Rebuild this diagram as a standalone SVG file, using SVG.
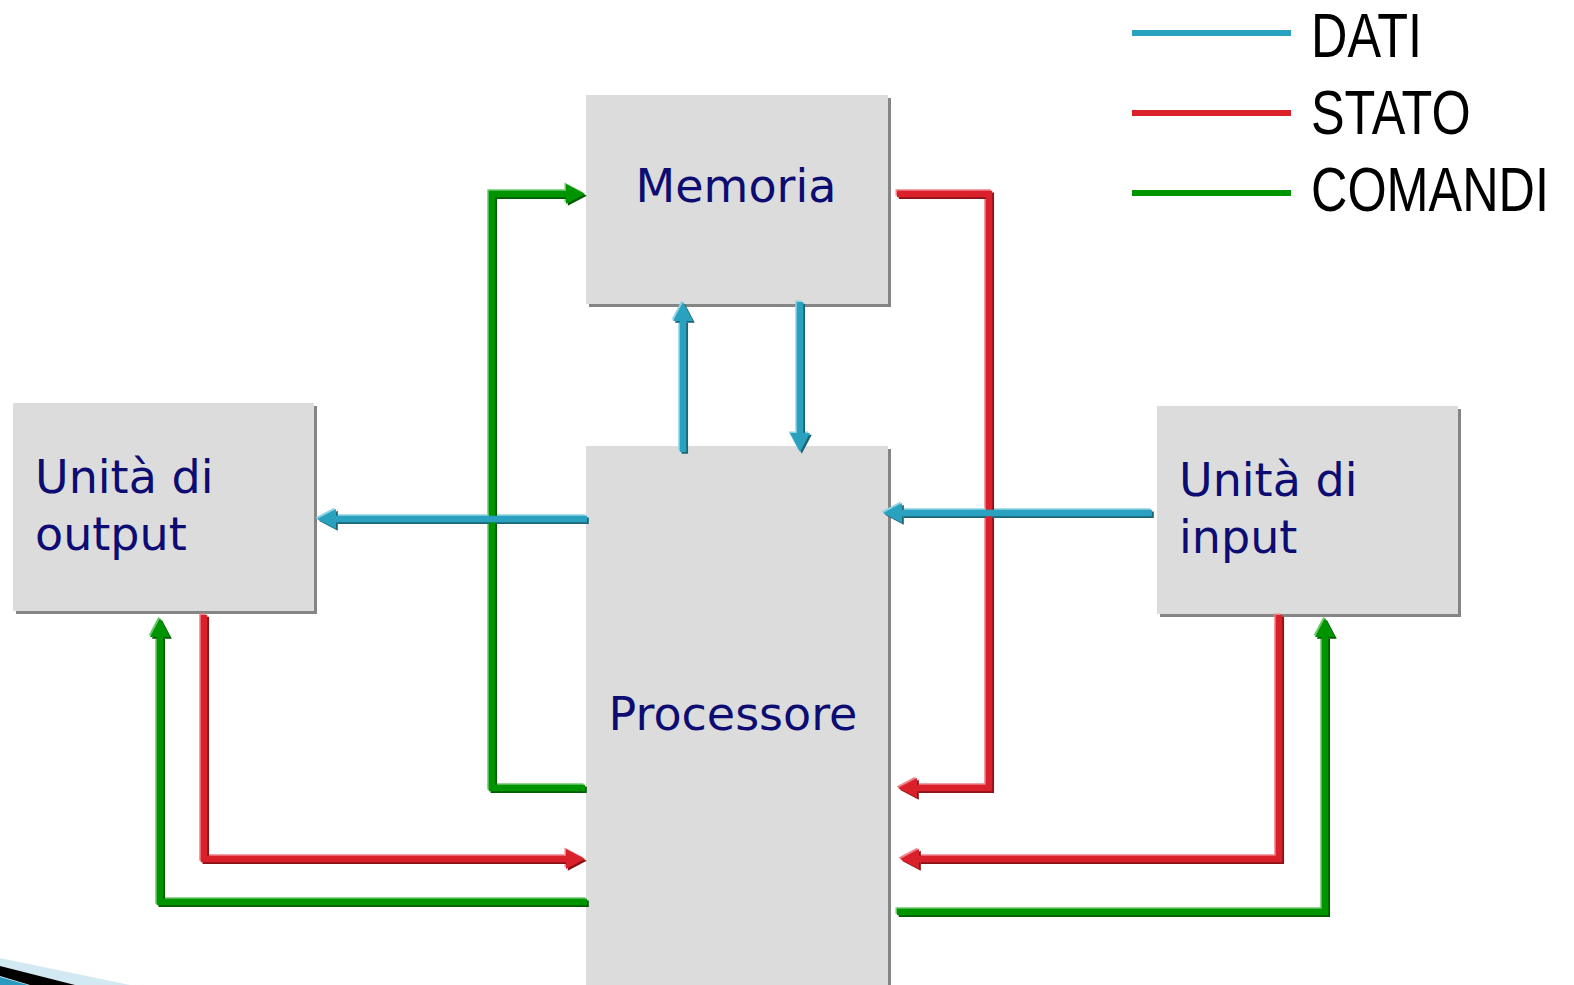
<svg xmlns="http://www.w3.org/2000/svg" width="1574" height="985" viewBox="0 0 1574 985">
<style>
.box{fill:#dcdcdc}
.bsh{fill:#858585}
.lbl{font-family:"DejaVu Sans",Verdana,sans-serif;font-size:46px;fill:#0c0c72}
.leg{font-family:"Liberation Sans",Arial,sans-serif;font-size:63px;fill:#000}
.c{fill:none;stroke-width:6.5;stroke-linejoin:miter}
.bl{stroke:#2aa2bf}.bl-l{stroke:#8fd3e4}.bl-d{stroke:#1b6577}
.rd{stroke:#d9202b}.rd-l{stroke:#f0808a}.rd-d{stroke:#8a1318}
.gr{stroke:#009400}.gr-l{stroke:#6cc86c}.gr-d{stroke:#005c00}
.hl{transform:translate(-1.5px,-1.5px)}
.sd{transform:translate(1.8px,1.8px)}
</style>
<defs>
<marker id="abl" markerUnits="userSpaceOnUse" markerWidth="20" markerHeight="22" refX="0" refY="11" orient="auto" overflow="visible"><path d="M0,1 L19,11 L0,21 z" fill="#2aa2bf"/></marker>
<marker id="abl-l" markerUnits="userSpaceOnUse" markerWidth="20" markerHeight="22" refX="0" refY="11" orient="auto" overflow="visible"><path d="M0,1 L19,11 L0,21 z" fill="#8fd3e4"/></marker>
<marker id="abl-d" markerUnits="userSpaceOnUse" markerWidth="20" markerHeight="22" refX="0" refY="11" orient="auto" overflow="visible"><path d="M0,1 L19,11 L0,21 z" fill="#1b6577"/></marker>
<marker id="ard" markerUnits="userSpaceOnUse" markerWidth="20" markerHeight="22" refX="0" refY="11" orient="auto" overflow="visible"><path d="M0,1 L19,11 L0,21 z" fill="#d9202b"/></marker>
<marker id="ard-l" markerUnits="userSpaceOnUse" markerWidth="20" markerHeight="22" refX="0" refY="11" orient="auto" overflow="visible"><path d="M0,1 L19,11 L0,21 z" fill="#f0808a"/></marker>
<marker id="ard-d" markerUnits="userSpaceOnUse" markerWidth="20" markerHeight="22" refX="0" refY="11" orient="auto" overflow="visible"><path d="M0,1 L19,11 L0,21 z" fill="#8a1318"/></marker>
<marker id="agr" markerUnits="userSpaceOnUse" markerWidth="20" markerHeight="22" refX="0" refY="11" orient="auto" overflow="visible"><path d="M0,1 L19,11 L0,21 z" fill="#009400"/></marker>
<marker id="agr-l" markerUnits="userSpaceOnUse" markerWidth="20" markerHeight="22" refX="0" refY="11" orient="auto" overflow="visible"><path d="M0,1 L19,11 L0,21 z" fill="#6cc86c"/></marker>
<marker id="agr-d" markerUnits="userSpaceOnUse" markerWidth="20" markerHeight="22" refX="0" refY="11" orient="auto" overflow="visible"><path d="M0,1 L19,11 L0,21 z" fill="#005c00"/></marker>
</defs>
<rect width="1574" height="985" fill="#fff"/>

<g id="memoria">
<rect class="bsh" x="589" y="98" width="302" height="209"/>
<rect class="box" x="586" y="95" width="302" height="209"/>
<text class="lbl" x="736" y="202" text-anchor="middle">Memoria</text>
</g>
<g id="processore">
<rect class="bsh" x="589" y="449" width="302" height="540"/>
<rect class="box" x="586" y="446" width="302" height="540"/>
<text class="lbl" x="733" y="730" text-anchor="middle">Processore</text>
</g>
<g id="output">
<rect class="bsh" x="16" y="406" width="301" height="208"/>
<rect class="box" x="13" y="403" width="301" height="208"/>
<text class="lbl" x="35" y="493">Unità di</text>
<text class="lbl" x="35" y="550">output</text>
</g>
<g id="input">
<rect class="bsh" x="1160" y="409" width="301" height="208"/>
<rect class="box" x="1157" y="406" width="301" height="208"/>
<text class="lbl" x="1179" y="496">Unità di</text>
<text class="lbl" x="1179" y="553">input</text>
</g>

<g id="connectors">
<g class="hl">
<path class="c gr-l" d="M585,788 L492,788 L492,194 L566,194" marker-end="url(#agr-l)"/>
<path class="c rd-l" d="M897,194 L989,194 L989,788 L917,788" marker-end="url(#ard-l)"/>
<path class="c bl-l" d="M683,452 L683,321" marker-end="url(#abl-l)"/>
<path class="c bl-l" d="M800,302 L800,433" marker-end="url(#abl-l)"/>
<path class="c bl-l" d="M587,519 L336,519" marker-end="url(#abl-l)"/>
<path class="c bl-l" d="M1152,513 L902,513" marker-end="url(#abl-l)"/>
<path class="c rd-l" d="M204,615 L204,859 L566,859" marker-end="url(#ard-l)"/>
<path class="c gr-l" d="M587,902 L160,902 L160,637" marker-end="url(#agr-l)"/>
<path class="c rd-l" d="M1279,615 L1279,859 L919,859" marker-end="url(#ard-l)"/>
<path class="c gr-l" d="M897,912 L1325,912 L1325,637" marker-end="url(#agr-l)"/>
</g>
<g class="sd">
<path class="c gr-d" d="M585,788 L492,788 L492,194 L566,194" marker-end="url(#agr-d)"/>
<path class="c rd-d" d="M897,194 L989,194 L989,788 L917,788" marker-end="url(#ard-d)"/>
<path class="c bl-d" d="M683,452 L683,321" marker-end="url(#abl-d)"/>
<path class="c bl-d" d="M800,302 L800,433" marker-end="url(#abl-d)"/>
<path class="c bl-d" d="M587,519 L336,519" marker-end="url(#abl-d)"/>
<path class="c bl-d" d="M1152,513 L902,513" marker-end="url(#abl-d)"/>
<path class="c rd-d" d="M204,615 L204,859 L566,859" marker-end="url(#ard-d)"/>
<path class="c gr-d" d="M587,902 L160,902 L160,637" marker-end="url(#agr-d)"/>
<path class="c rd-d" d="M1279,615 L1279,859 L919,859" marker-end="url(#ard-d)"/>
<path class="c gr-d" d="M897,912 L1325,912 L1325,637" marker-end="url(#agr-d)"/>
</g>
<g>
<path class="c gr" d="M585,788 L492,788 L492,194 L566,194" marker-end="url(#agr)"/>
<path class="c rd" d="M897,194 L989,194 L989,788 L917,788" marker-end="url(#ard)"/>
<path class="c bl" d="M683,452 L683,321" marker-end="url(#abl)"/>
<path class="c bl" d="M800,302 L800,433" marker-end="url(#abl)"/>
<path class="c bl" d="M587,519 L336,519" marker-end="url(#abl)"/>
<path class="c bl" d="M1152,513 L902,513" marker-end="url(#abl)"/>
<path class="c rd" d="M204,615 L204,859 L566,859" marker-end="url(#ard)"/>
<path class="c gr" d="M587,902 L160,902 L160,637" marker-end="url(#agr)"/>
<path class="c rd" d="M1279,615 L1279,859 L919,859" marker-end="url(#ard)"/>
<path class="c gr" d="M897,912 L1325,912 L1325,637" marker-end="url(#agr)"/>
</g>
</g>

<g id="legend">
<rect x="1132" y="30" width="159" height="6" fill="#2aa2bf"/>
<rect x="1132" y="110" width="159" height="6" fill="#d9202b"/>
<rect x="1132" y="190" width="159" height="6" fill="#009400"/>
<text class="leg" transform="translate(1311,57) scale(0.8,1)">DATI</text>
<text class="leg" transform="translate(1311,134) scale(0.8,1)">STATO</text>
<text class="leg" transform="translate(1311,211) scale(0.8,1)">COMANDI</text>
</g>

<g id="corner">
<polygon points="0,958 130,985 0,985" fill="#d3e9f1"/>
<polygon points="0,966 75,985 30,985 0,976" fill="#000"/>
<polygon points="0,977 28,985 0,985" fill="#2a9ac0"/>
</g>
</svg>
